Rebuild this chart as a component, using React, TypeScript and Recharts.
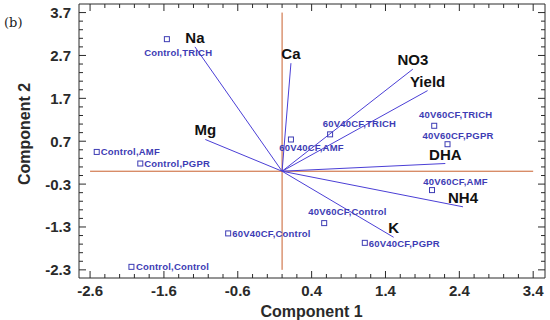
import React from 'react';
import { ScatterChart, Scatter, XAxis, YAxis, ReferenceLine, Label } from 'recharts';

// ---- data ----
const sampleNames = [
  'Control,TRICH', 'Control,AMF', 'Control,PGPR', 'Control,Control',
  '60V40CF,Control', '60V40CF,AMF', '60V40CF,TRICH', '40V60CF,TRICH',
  '40V60CF,PGPR', '40V60CF,AMF', '40V60CF,Control', '60V40CF,PGPR',
];
const sampleX = [-1.56, -2.51, -1.92, -2.04, -0.73, 0.12, 0.65, 2.06, 2.24, 2.03, 0.57, 1.12];
const sampleY = [3.08, 0.45, 0.18, -2.23, -1.45, 0.74, 0.86, 1.06, 0.63, -0.44, -1.21, -1.67];

const varNames = ['Na', 'Ca', 'NO3', 'Yield', 'Mg', 'DHA', 'NH4', 'K'];
const varX = [-1.18, 0.12, 1.77, 1.97, -1.04, 2.21, 2.45, 1.51];
const varY = [2.9, 2.52, 2.38, 1.88, 0.74, 0.18, -0.83, -1.54];

const xMajorTicks = [-2.6, -1.6, -0.6, 0.4, 1.4, 2.4, 3.4];
const yMajorTicks = [-2.3, -1.3, -0.3, 0.7, 1.7, 2.7, 3.7];

// ---- layout / style ----
const W = 550;
const H = 320;
const PLOT_LEFT = 79;
const PLOT_RIGHT = 545;
const PLOT_TOP = 4;
const PLOT_BOTTOM = 278;
const X_DOMAIN: [number, number] = [-2.75, 3.56];
const Y_DOMAIN: [number, number] = [-2.49, 3.9];
const AXIS = '#2a2a2a';
const RED = '#c9602e';
const VEC = '#4b3fd6';
const PT = '#3d3cb4';
const FONT = '"Liberation Sans", Arial, sans-serif';

const labelOffsets: Record<string, [number, number]> = {
  'Control,TRICH': [-22.7, 17],
  'Control,AMF': [4, 3.5],
  'Control,PGPR': [4, 3.5],
  'Control,Control': [4.5, 3.5],
  '60V40CF,Control': [4, 3.5],
  '60V40CF,AMF': [-11.7, 11.7],
  '60V40CF,TRICH': [-7.3, -7.8],
  '40V60CF,TRICH': [-15.3, -7.7],
  '40V60CF,PGPR': [-25, -5.3],
  '40V60CF,AMF': [-8.7, -5],
  '40V60CF,Control': [-16, -8.3],
  '60V40CF,PGPR': [4, 4],
};

const subdivide = (majors: number[]) => {
  const out: number[] = [];
  for (let i = 0; i < majors.length - 1; i++) {
    for (let k = 0; k < 5; k++) out.push(Math.round((majors[i] + (majors[i + 1] - majors[i]) * k / 5) * 100) / 100);
  }
  out.push(majors[majors.length - 1]);
  return out;
};
const xTicks = subdivide(xMajorTicks);
const yTicks = subdivide(yMajorTicks);
const isMajor = (v: number, majors: number[]) => majors.some((m) => Math.abs(m - v) < 1e-6);

const samples = sampleNames.map((name, i) => ({ name, x: sampleX[i], y: sampleY[i] }));
const loadings = varNames.map((name, i) => ({ name, x: varX[i], y: varY[i] }));

const XTick = (props: any) => {
  const { x, payload } = props;
  const v = payload.value as number;
  const major = isMajor(v, xMajorTicks);
  const len = major ? 7 : 4;
  return (
    <g>
      <line x1={x} x2={x} y1={PLOT_BOTTOM} y2={PLOT_BOTTOM - len} stroke={AXIS} strokeWidth={1} />
      <line x1={x} x2={x} y1={PLOT_TOP} y2={PLOT_TOP + len} stroke={AXIS} strokeWidth={1} />
      {major && (
        <text x={x} y={296} textAnchor="middle" fontFamily={FONT} fontWeight="bold" fontSize={15} fill={AXIS}>
          {v.toFixed(1)}
        </text>
      )}
    </g>
  );
};

const YTick = (props: any) => {
  const { y, payload } = props;
  const v = payload.value as number;
  const major = isMajor(v, yMajorTicks);
  const len = major ? 7 : 4;
  return (
    <g>
      <line x1={PLOT_LEFT} x2={PLOT_LEFT + len} y1={y} y2={y} stroke={AXIS} strokeWidth={1} />
      <line x1={PLOT_RIGHT} x2={PLOT_RIGHT - len} y1={y} y2={y} stroke={AXIS} strokeWidth={1} />
      {major && (
        <text x={71} y={y + 5.5} textAnchor="end" fontFamily={FONT} fontWeight="bold" fontSize={15} fill={AXIS}>
          {v.toFixed(1)}
        </text>
      )}
    </g>
  );
};

const SampleShape = (props: any) => {
  const { cx, cy, payload } = props;
  const [dx, dy] = labelOffsets[payload.name] || [4, 3.5];
  return (
    <g>
      <rect x={cx - 2.5} y={cy - 2.5} width={5} height={5} fill="none" stroke={PT} strokeWidth={1} />
      <text x={cx + dx} y={cy + dy} fontFamily={FONT} fontWeight="bold" fontSize={9.5} letterSpacing={0.2} fill={PT}>
        {payload.name}
      </text>
    </g>
  );
};

const LoadingLabel = (props: any) => {
  const { cx, cy, payload } = props;
  return (
    <text x={cx} y={cy - 4} textAnchor="middle" fontFamily={FONT} fontWeight="bold" fontSize={15} fill="#111">
      {payload.name}
    </text>
  );
};

export default function App() {
  return (
    <div style={{ position: 'absolute', left: 0, top: 0, width: W, height: H, background: '#fff' }}>
      <ScatterChart width={W} height={H} margin={{ top: PLOT_TOP, right: W - PLOT_RIGHT, bottom: 0, left: 0 }}>
        <XAxis
          type="number"
          dataKey="x"
          domain={X_DOMAIN}
          ticks={xTicks}
          interval={0}
          allowDataOverflow
          height={H - PLOT_BOTTOM}
          tickLine={false}
          axisLine={{ stroke: AXIS }}
          tick={XTick}
        >
          <Label
            content={() => (
              <text x={311.5} y={316.5} textAnchor="middle" fontFamily={FONT} fontWeight="bold" fontSize={16} fill={AXIS}>
                Component 1
              </text>
            )}
          />
        </XAxis>
        <YAxis
          type="number"
          dataKey="y"
          domain={Y_DOMAIN}
          ticks={yTicks}
          interval={0}
          allowDataOverflow
          width={PLOT_LEFT}
          tickLine={false}
          axisLine={{ stroke: AXIS }}
          tick={YTick}
        >
          <Label
            content={() => (
              <g>
                <text
                  x={30}
                  y={134}
                  textAnchor="middle"
                  fontFamily={FONT}
                  fontWeight="bold"
                  fontSize={16}
                  fill={AXIS}
                  transform="rotate(-90, 30, 134)"
                >
                  Component 2
                </text>
                <text x={4} y={27} fontFamily="'DejaVu Serif', 'Liberation Serif', serif" fontSize={13} fill="#222">
                  (b)
                </text>
              </g>
            )}
          />
        </YAxis>
        <ReferenceLine y={Y_DOMAIN[1]} stroke={AXIS} strokeWidth={1} />
        <ReferenceLine x={X_DOMAIN[1]} stroke={AXIS} strokeWidth={1} />
        <ReferenceLine
          segment={[{ x: xMajorTicks[0], y: 0 }, { x: xMajorTicks[xMajorTicks.length - 1], y: 0 }]}
          stroke={RED}
          strokeWidth={1}
        />
        <ReferenceLine
          segment={[{ x: 0, y: yMajorTicks[0] }, { x: 0, y: yMajorTicks[yMajorTicks.length - 1] }]}
          stroke={RED}
          strokeWidth={1}
        />
        {loadings.map((d) => (
          <ReferenceLine
            key={d.name}
            segment={[{ x: 0, y: 0 }, { x: d.x, y: d.y }]}
            stroke={VEC}
            strokeWidth={1}
          />
        ))}
        <Scatter data={loadings} shape={LoadingLabel} isAnimationActive={false} />
        <Scatter data={samples} shape={SampleShape} isAnimationActive={false} />
      </ScatterChart>
    </div>
  );
}
